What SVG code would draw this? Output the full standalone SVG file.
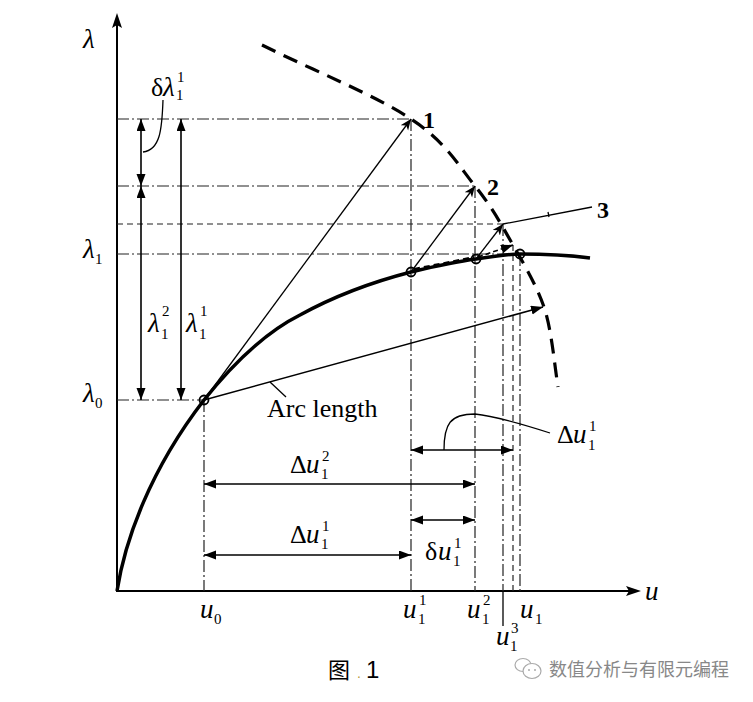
<svg xmlns="http://www.w3.org/2000/svg" width="753" height="702" viewBox="0 0 753 702">
<style>
.dd{fill:none;stroke:#222;stroke-width:1.2;stroke-dasharray:12 3 2 3}
.ds{fill:none;stroke:#222;stroke-width:1.2;stroke-dasharray:6 4}
.thin{fill:none;stroke:#000;stroke-width:1.3}
.dim{fill:none;stroke:#000;stroke-width:1.6;marker-start:url(#fa);marker-end:url(#fa)}
.m{font-family:"Liberation Serif",serif;font-style:italic;font-size:27px;fill:#000}
.r{font-family:"Liberation Serif",serif;font-size:26px;fill:#000}
.s{font-family:"Liberation Serif",serif;font-size:15px;fill:#000}
.b{font-family:"Liberation Serif",serif;font-weight:bold;font-size:24px;fill:#000}
.pt{fill:none;stroke:#000;stroke-width:1.8}
</style>
<defs>
<marker id="fa" markerUnits="userSpaceOnUse" markerWidth="13" markerHeight="10" refX="12" refY="4.5" orient="auto-start-reverse"><path d="M0,0 L12,4.5 L0,9 z" fill="#000"/></marker>
<marker id="ba" markerUnits="userSpaceOnUse" markerWidth="12" markerHeight="10" refX="11" refY="4.5" orient="auto"><path d="M0,0 L11,4.5 L0,9 L3,4.5 z" fill="#000"/></marker>
</defs>
<rect width="753" height="702" fill="#fff"/>
<g id="axes">
<path d="M117,592 V24 M116,591 H630" fill="none" stroke="#000" stroke-width="2"/>
<path d="M117,13 L122,28 L117,25 L112,28 z M641,591 L626,586 L629,591 L626,596 z" fill="#000"/>
</g>
<g id="guides">
<path class="dd" d="M117,119 H411 M117,186 H475 M117,254 H520 M117,400 H204"/>
<path class="ds" d="M117,224 H503"/>
<path class="dd" d="M204,400 V591 M411,119 V591 M475,186 V591 M503,224 V591 M520,254 V594"/>
<path class="ds" stroke-dasharray="4 3" d="M513,245 V594"/>
<path class="thin" d="M503,591 V626"/>
</g>
<g id="curve">
<path d="M117,591 C125,540 150,470 204,400 C240,355 270,330 300,315 C340,293 380,280 411,272 C440,265 460,261 476,259 C495,256 510,254 520,254 C550,254 575,256 590,258" fill="none" stroke="#000" stroke-width="3.5"/>
</g>
<g id="arc">
<path d="M262,45 C312,70 375,95 411,119 C446,142 458,165 475,186 C492,207 501,224 513,245 C525,266 537,286 545,310 C552,334 554,361 558,387" fill="none" stroke="#000" stroke-width="3.2" stroke-dasharray="15 9"/>
</g>
<g id="connectors">
<path class="thin" d="M204,400 L411,119" marker-end="url(#ba)"/>
<path class="thin" d="M411,272 L475,186" marker-end="url(#ba)"/>
<path class="thin" d="M476,259 L503,224" marker-end="url(#ba)"/>
<path class="thin" d="M503,224 L592,207 M548,212 L549,217"/>
<path d="M478,257 L513,245" fill="none" stroke="#000" stroke-width="1.6" stroke-dasharray="5 3" marker-end="url(#fa)"/>
<path d="M414,269 L474,257" fill="none" stroke="#000" stroke-width="2" stroke-dasharray="6 4"/>
<path d="M204,400 L543,307" fill="none" stroke="#000" stroke-width="1.5" marker-end="url(#fa)"/>
<path class="dim" d="M141,119 L141,186"/>
<path class="dim" d="M141,186 L141,400"/>
<path class="dim" d="M181,119 L181,400"/>
<path class="dim" d="M411,450 L513,450"/>
<path class="dim" d="M204,484 L475,484"/>
<path class="dim" d="M411,520 L475,520"/>
<path class="dim" d="M204,555 L411,555"/>
<path class="thin" d="M163,100 C162,130 160,150 143,152"/>
<path class="thin" d="M270,382 L286,397"/>
<path class="thin" d="M444,450 C444,424 450,414 475,414 C495,416 525,425 550,433"/>
</g>
<g id="points">
<circle class="pt" cx="204" cy="400" r="4.5"/>
<circle class="pt" cx="411" cy="272" r="4.5"/>
<circle class="pt" cx="476" cy="259" r="4.5"/>
<circle class="pt" cx="520" cy="254" r="4.5"/>
</g>
<g id="labels">
<text class="m" x="83" y="48">λ</text>
<text class="m" x="83" y="258">λ</text><text class="s" x="95" y="264">1</text>
<text class="m" x="83" y="402">λ</text><text class="s" x="95" y="408">0</text>
<text class="r" x="151" y="96">δ</text><text class="m" x="163" y="96">λ</text><text class="s" x="177" y="82">1</text><text class="s" x="176" y="100">1</text>
<text class="m" x="148" y="332">λ</text><text class="s" x="162" y="316">2</text><text class="s" x="161" y="339">1</text>
<text class="m" x="186" y="332">λ</text><text class="s" x="200" y="316">1</text><text class="s" x="199" y="339">1</text>
<text class="b" x="423" y="128">1</text>
<text class="b" x="487" y="195">2</text>
<text class="b" x="597" y="218">3</text>
<text class="r" x="267" y="417" font-size="28">Arc length</text>
<text class="r" x="557" y="443">Δ</text><text class="m" x="573" y="443">u</text><text class="s" x="589" y="431">1</text><text class="s" x="588" y="450">1</text>
<text class="r" x="290" y="473">Δ</text><text class="m" x="306" y="473">u</text><text class="s" x="322" y="461">2</text><text class="s" x="321" y="479">1</text>
<text class="r" x="290" y="543">Δ</text><text class="m" x="306" y="543">u</text><text class="s" x="322" y="531">1</text><text class="s" x="321" y="549">1</text>
<text class="r" x="425" y="560">δ</text><text class="m" x="438" y="560">u</text><text class="s" x="454" y="548">1</text><text class="s" x="453" y="566">1</text>
<text class="m" x="200" y="618">u</text><text class="s" x="214" y="624">0</text>
<text class="m" x="403" y="618">u</text><text class="s" x="419" y="605">1</text><text class="s" x="418" y="624">1</text>
<text class="m" x="467" y="618">u</text><text class="s" x="483" y="605">2</text><text class="s" x="482" y="624">1</text>
<text class="m" x="520" y="618">u</text><text class="s" x="535" y="624">1</text>
<text class="m" x="496" y="645">u</text><text class="s" x="511" y="633">3</text><text class="s" x="510" y="651">1</text>
<text class="m" x="645" y="600">u</text>
</g>
<g id="caption">
<text x="328" y="678" font-family="'Noto Sans CJK SC',sans-serif" font-size="22" fill="#000">图</text>
<text x="357" y="678" font-family="'Liberation Sans',sans-serif" font-size="14" fill="#b89a3a">.</text>
<text x="366" y="678" font-family="'Liberation Sans',sans-serif" font-size="24" fill="#000">1</text>
</g>
<g id="watermark">
<ellipse cx="523" cy="665" rx="8" ry="6.5" fill="none" stroke="#aaa" stroke-width="1.2"/>
<ellipse cx="532" cy="671" rx="9" ry="7.5" fill="#fff" stroke="#aaa" stroke-width="1.2"/>
<circle cx="529" cy="670" r="1" fill="#aaa"/><circle cx="535" cy="670" r="1" fill="#aaa"/>
<text x="549" y="676" font-family="'Noto Sans CJK SC',sans-serif" font-size="18" fill="#888">数值分析与有限元编程</text>
</g>
</svg>
